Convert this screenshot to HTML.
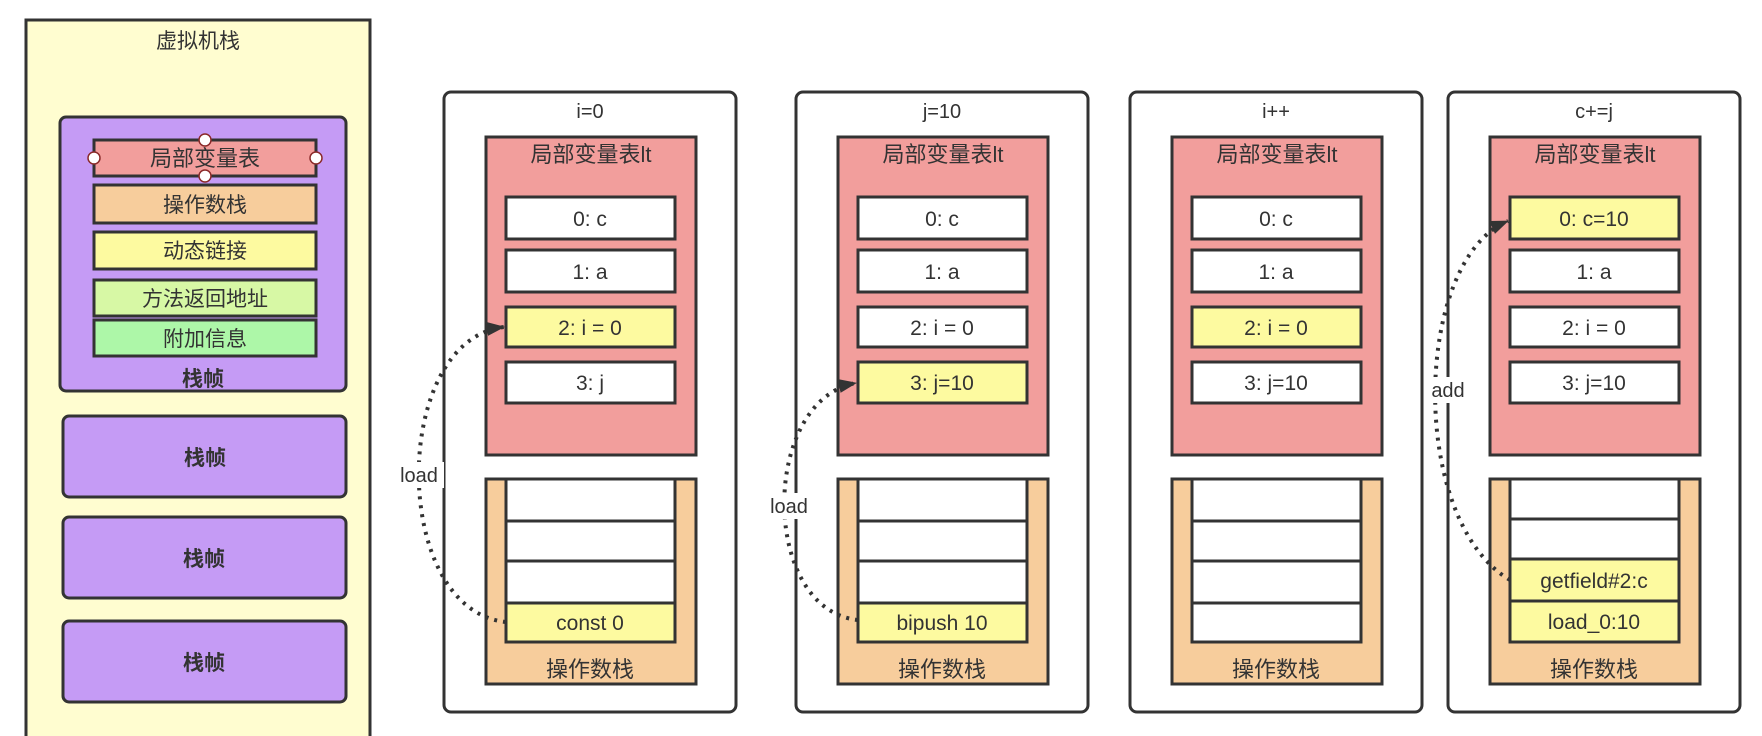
<!DOCTYPE html>
<html><head><meta charset="utf-8"><style>
html,body{margin:0;padding:0;background:#fff;}
svg{display:block;}
text{font-family:"Liberation Sans","Noto Sans CJK SC",sans-serif;fill:#333;}
</style></head><body>
<svg width="1762" height="736" viewBox="0 0 1762 736" xmlns="http://www.w3.org/2000/svg">
<defs>
<marker id="ah" markerWidth="18" markerHeight="14" refX="17" refY="7" orient="auto" markerUnits="userSpaceOnUse" viewBox="0 0 18 14">
<path d="M0,0 L18,7 L0,14 z" fill="#333"/>
</marker>
</defs>
<rect x="26" y="20" width="344" height="730" fill="#fffdd0" stroke="#333" stroke-width="3"/>
<text x="198" y="48" font-size="21" text-anchor="middle">虚拟机栈</text>
<rect x="60" y="117" width="286" height="274" rx="6" fill="#c59bf5" stroke="#333" stroke-width="3"/>
<rect x="94" y="140" width="222" height="36" fill="#f29e9c" stroke="#333" stroke-width="3"/>
<text x="205" y="166" font-size="22" text-anchor="middle">局部变量表</text>
<rect x="94" y="185" width="222" height="38" fill="#f7cd9c" stroke="#333" stroke-width="3"/>
<text x="205" y="212" font-size="21" text-anchor="middle">操作数栈</text>
<rect x="94" y="232" width="222" height="37" fill="#fdfaa0" stroke="#333" stroke-width="3"/>
<text x="205" y="258" font-size="21" text-anchor="middle">动态链接</text>
<rect x="94" y="280" width="222" height="36" fill="#d7f8a5" stroke="#333" stroke-width="3"/>
<text x="205" y="306" font-size="21" text-anchor="middle">方法返回地址</text>
<rect x="94" y="320" width="222" height="36" fill="#adf7a8" stroke="#333" stroke-width="3"/>
<text x="205" y="346" font-size="21" text-anchor="middle">附加信息</text>
<circle cx="94" cy="158" r="6" fill="#fff" stroke="#8b2a2a" stroke-width="1.5"/>
<circle cx="316" cy="158" r="6" fill="#fff" stroke="#8b2a2a" stroke-width="1.5"/>
<circle cx="205" cy="140" r="6" fill="#fff" stroke="#8b2a2a" stroke-width="1.5"/>
<circle cx="205" cy="176" r="6" fill="#fff" stroke="#8b2a2a" stroke-width="1.5"/>
<text x="203" y="386" font-size="21" font-weight="bold" text-anchor="middle">栈帧</text>
<rect x="63" y="416" width="283" height="81" rx="6" fill="#c59bf5" stroke="#333" stroke-width="3"/>
<text x="205" y="465" font-size="21" font-weight="bold" text-anchor="middle">栈帧</text>
<rect x="63" y="517" width="283" height="81" rx="6" fill="#c59bf5" stroke="#333" stroke-width="3"/>
<text x="204" y="566" font-size="21" font-weight="bold" text-anchor="middle">栈帧</text>
<rect x="63" y="621" width="283" height="81" rx="6" fill="#c59bf5" stroke="#333" stroke-width="3"/>
<text x="204" y="670" font-size="21" font-weight="bold" text-anchor="middle">栈帧</text>

<g transform="translate(444,0)">
<rect x="0" y="92" width="292" height="620" rx="7" fill="#fff" stroke="#333" stroke-width="3"/>
<text x="146" y="118" font-size="20" text-anchor="middle">i=0</text>
<rect x="42" y="137" width="210" height="318" fill="#f29e9c" stroke="#333" stroke-width="3"/>
<text x="147" y="162" font-size="22" text-anchor="middle">局部变量表lt</text>
<rect x="62" y="197" width="169" height="42" fill="#fff" stroke="#333" stroke-width="3"/><text x="146" y="226" font-size="21" text-anchor="middle">0: c</text>
<rect x="62" y="250" width="169" height="42" fill="#fff" stroke="#333" stroke-width="3"/><text x="146" y="279" font-size="21" text-anchor="middle">1: a</text>
<rect x="62" y="307" width="169" height="40" fill="#fdfaa0" stroke="#333" stroke-width="3"/><text x="146" y="335" font-size="21" text-anchor="middle">2: i = 0</text>
<rect x="62" y="362" width="169" height="41" fill="#fff" stroke="#333" stroke-width="3"/><text x="146" y="390" font-size="21" text-anchor="middle">3: j</text>
<rect x="42" y="479" width="210" height="205" fill="#f7cd9c" stroke="#333" stroke-width="3"/>
<rect x="62" y="479" width="169" height="42" fill="#fff" stroke="#333" stroke-width="3"/>
<rect x="62" y="521" width="169" height="40" fill="#fff" stroke="#333" stroke-width="3"/>
<rect x="62" y="561" width="169" height="42" fill="#fff" stroke="#333" stroke-width="3"/>
<rect x="62" y="603" width="169" height="39" fill="#fdfaa0" stroke="#333" stroke-width="3"/><text x="146" y="630" font-size="21" text-anchor="middle">const 0</text>
<text x="146" y="677" font-size="22" text-anchor="middle">操作数栈</text>
</g>

<g transform="translate(796,0)">
<rect x="0" y="92" width="292" height="620" rx="7" fill="#fff" stroke="#333" stroke-width="3"/>
<text x="146" y="118" font-size="20" text-anchor="middle">j=10</text>
<rect x="42" y="137" width="210" height="318" fill="#f29e9c" stroke="#333" stroke-width="3"/>
<text x="147" y="162" font-size="22" text-anchor="middle">局部变量表lt</text>
<rect x="62" y="197" width="169" height="42" fill="#fff" stroke="#333" stroke-width="3"/><text x="146" y="226" font-size="21" text-anchor="middle">0: c</text>
<rect x="62" y="250" width="169" height="42" fill="#fff" stroke="#333" stroke-width="3"/><text x="146" y="279" font-size="21" text-anchor="middle">1: a</text>
<rect x="62" y="307" width="169" height="40" fill="#fff" stroke="#333" stroke-width="3"/><text x="146" y="335" font-size="21" text-anchor="middle">2: i = 0</text>
<rect x="62" y="362" width="169" height="41" fill="#fdfaa0" stroke="#333" stroke-width="3"/><text x="146" y="390" font-size="21" text-anchor="middle">3: j=10</text>
<rect x="42" y="479" width="210" height="205" fill="#f7cd9c" stroke="#333" stroke-width="3"/>
<rect x="62" y="479" width="169" height="42" fill="#fff" stroke="#333" stroke-width="3"/>
<rect x="62" y="521" width="169" height="40" fill="#fff" stroke="#333" stroke-width="3"/>
<rect x="62" y="561" width="169" height="42" fill="#fff" stroke="#333" stroke-width="3"/>
<rect x="62" y="603" width="169" height="39" fill="#fdfaa0" stroke="#333" stroke-width="3"/><text x="146" y="630" font-size="21" text-anchor="middle">bipush 10</text>
<text x="146" y="677" font-size="22" text-anchor="middle">操作数栈</text>
</g>

<g transform="translate(1130,0)">
<rect x="0" y="92" width="292" height="620" rx="7" fill="#fff" stroke="#333" stroke-width="3"/>
<text x="146" y="118" font-size="20" text-anchor="middle">i++</text>
<rect x="42" y="137" width="210" height="318" fill="#f29e9c" stroke="#333" stroke-width="3"/>
<text x="147" y="162" font-size="22" text-anchor="middle">局部变量表lt</text>
<rect x="62" y="197" width="169" height="42" fill="#fff" stroke="#333" stroke-width="3"/><text x="146" y="226" font-size="21" text-anchor="middle">0: c</text>
<rect x="62" y="250" width="169" height="42" fill="#fff" stroke="#333" stroke-width="3"/><text x="146" y="279" font-size="21" text-anchor="middle">1: a</text>
<rect x="62" y="307" width="169" height="40" fill="#fdfaa0" stroke="#333" stroke-width="3"/><text x="146" y="335" font-size="21" text-anchor="middle">2: i = 0</text>
<rect x="62" y="362" width="169" height="41" fill="#fff" stroke="#333" stroke-width="3"/><text x="146" y="390" font-size="21" text-anchor="middle">3: j=10</text>
<rect x="42" y="479" width="210" height="205" fill="#f7cd9c" stroke="#333" stroke-width="3"/>
<rect x="62" y="479" width="169" height="42" fill="#fff" stroke="#333" stroke-width="3"/>
<rect x="62" y="521" width="169" height="40" fill="#fff" stroke="#333" stroke-width="3"/>
<rect x="62" y="561" width="169" height="42" fill="#fff" stroke="#333" stroke-width="3"/>
<rect x="62" y="603" width="169" height="39" fill="#fff" stroke="#333" stroke-width="3"/>
<text x="146" y="677" font-size="22" text-anchor="middle">操作数栈</text>
</g>

<g transform="translate(1448,0)">
<rect x="0" y="92" width="292" height="620" rx="7" fill="#fff" stroke="#333" stroke-width="3"/>
<text x="146" y="118" font-size="20" text-anchor="middle">c+=j</text>
<rect x="42" y="137" width="210" height="318" fill="#f29e9c" stroke="#333" stroke-width="3"/>
<text x="147" y="162" font-size="22" text-anchor="middle">局部变量表lt</text>
<rect x="62" y="197" width="169" height="42" fill="#fdfaa0" stroke="#333" stroke-width="3"/><text x="146" y="226" font-size="21" text-anchor="middle">0: c=10</text>
<rect x="62" y="250" width="169" height="42" fill="#fff" stroke="#333" stroke-width="3"/><text x="146" y="279" font-size="21" text-anchor="middle">1: a</text>
<rect x="62" y="307" width="169" height="40" fill="#fff" stroke="#333" stroke-width="3"/><text x="146" y="335" font-size="21" text-anchor="middle">2: i = 0</text>
<rect x="62" y="362" width="169" height="41" fill="#fff" stroke="#333" stroke-width="3"/><text x="146" y="390" font-size="21" text-anchor="middle">3: j=10</text>
<rect x="42" y="479" width="210" height="205" fill="#f7cd9c" stroke="#333" stroke-width="3"/>
<rect x="62" y="479" width="169" height="40" fill="#fff" stroke="#333" stroke-width="3"/>
<rect x="62" y="519" width="169" height="40" fill="#fff" stroke="#333" stroke-width="3"/>
<rect x="62" y="559" width="169" height="42" fill="#fdfaa0" stroke="#333" stroke-width="3"/><text x="146" y="588" font-size="21" text-anchor="middle">getfield#2:c</text>
<rect x="62" y="601" width="169" height="41" fill="#fdfaa0" stroke="#333" stroke-width="3"/><text x="146" y="629" font-size="21" text-anchor="middle">load_0:10</text>
<text x="146" y="677" font-size="22" text-anchor="middle">操作数栈</text>
</g>

<g fill="none" stroke="#333" stroke-width="4" stroke-dasharray="3 6">
<path d="M506,622 C390,610 390,340 504,327" marker-end="url(#ah)"/>
<path d="M858,620 C760,610 760,400 856,383" marker-end="url(#ah)"/>
<path d="M1510,580 C1408,520 1413,260 1508,221" marker-end="url(#ah)"/>
</g>
<rect x="394" y="462" width="50" height="26" fill="#fff"/>
<text x="419" y="482" font-size="20" text-anchor="middle">load</text>
<rect x="764" y="493" width="50" height="26" fill="#fff"/>
<text x="789" y="513" font-size="20" text-anchor="middle">load</text>
<rect x="1424" y="377" width="48" height="26" fill="#fff"/>
<text x="1448" y="397" font-size="20" text-anchor="middle">add</text>
</svg>
</body></html>
